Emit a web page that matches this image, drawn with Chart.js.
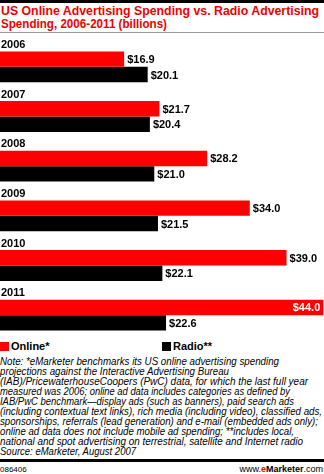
<!DOCTYPE html>
<html>
<head>
<meta charset="utf-8">
<script src="https://cdn.jsdelivr.net/npm/chart.js@4"></script>
<style>
  body { margin: 0; width: 324px; height: 474px; background: #fff; font-family: "Liberation Sans", Arial, sans-serif; position: relative; overflow: hidden; }
  .topline { position: absolute; left: 0; top: 0; width: 324px; height: 3px; background: #000; }
  .title { position: absolute; left: 1px; top: 5px; color: #e00; font-weight: bold; font-size: 13px; line-height: 12.5px; white-space: nowrap; }
  .rule { position: absolute; left: 0; top: 32px; width: 324px; height: 1px; background: #999; }
  #wrap { position: absolute; left: 0; top: 34px; width: 324px; height: 306px; }
  .legend { position: absolute; top: 340px; font-weight: bold; font-size: 11px; }
  .legend span { display: inline-block; width: 9px; height: 9px; vertical-align: -1px; margin-right: 2px; }
  .note { position: absolute; left: 0; top: 357px; font-style: italic; font-size: 10px; line-height: 10px; color: #000; }
  .fit { white-space: nowrap; transform-origin: 0 0; }
  .botline { position: absolute; left: 0; top: 459px; width: 324px; height: 3px; background: #000; }
  .code { position: absolute; left: 0; top: 465px; font-size: 8px; }
  .site { position: absolute; right: 1px; top: 464px; font-size: 9px; }
</style>
</head>
<body>
<div class="topline"></div>
<div class="title">
  <div class="fit" data-w="318">US Online Advertising Spending vs. Radio Advertising</div>
  <div class="fit" data-w="166">Spending, 2006-2011 (billions)</div>
</div>
<div class="rule"></div>
<div id="wrap"><canvas id="adChart"></canvas></div>
<div class="legend" style="left:0"><span style="background:#f00"></span>Online*</div>
<div class="legend" style="left:162px"><span style="background:#000"></span>Radio**</div>
<div class="note">
  <div class="fit" data-w="279">Note: *eMarketer benchmarks its US online advertising spending</div>
  <div class="fit" data-w="229">projections against the Interactive Advertising Bureau</div>
  <div class="fit" data-w="308">(IAB)/PricewaterhouseCoopers (PwC) data, for which the last full year</div>
  <div class="fit" data-w="290">measured was 2006; online ad data includes categories as defined by</div>
  <div class="fit" data-w="294">IAB/PwC benchmark—display ads (such as banners), paid search ads</div>
  <div class="fit" data-w="322">(including contextual text links), rich media (including video), classified ads,</div>
  <div class="fit" data-w="318">sponsorships, referrals (lead generation) and e-mail (embedded ads only);</div>
  <div class="fit" data-w="294">online ad data does not include mobile ad spending; **includes local,</div>
  <div class="fit" data-w="303">national and spot advertising on terrestrial, satellite and Internet radio</div>
  <div class="fit" data-w="136">Source: eMarketer, August 2007</div>
</div>
<div class="botline"></div>
<div class="code">086406</div>
<div class="site">www.<b style="color:#e00">e</b><b>Marketer</b>.com</div>

<script>
const years = ["2006", "2007", "2008", "2009", "2010", "2011"]
const online = [16.9, 21.7, 28.2, 34.0, 39.0, 44.0]
const radio = [20.1, 20.4, 21.0, 21.5, 22.1, 22.6]

// squeeze text lines to the widths seen in the picture
document.querySelectorAll(".fit").forEach((el) => {
    el.style.display = "inline-block"
    const w = el.getBoundingClientRect().width
    const target = parseFloat(el.dataset.w)
    el.style.transform = "scaleX(" + target / w + ")"
    el.style.display = "block"
})

// year label above each pair + value labels at bar ends
const labelPlugin = {
    id: "labelPlugin",
    afterDatasetsDraw(chart) {
        const ctx = chart.ctx
        const yScale = chart.scales.y
        ctx.save()
        ctx.font = "bold 11px 'Liberation Sans', Arial, sans-serif"
        ctx.textBaseline = "middle"
        years.forEach((yr, i) => {
            const yc = yScale.getPixelForValue(i)
            ctx.fillStyle = "#000"
            ctx.textAlign = "left"
            ctx.fillText(yr, 1, yc - 22)
        })
        chart.data.datasets.forEach((ds, di) => {
            const meta = chart.getDatasetMeta(di)
            meta.data.forEach((bar, i) => {
                const txt = "$" + ds.data[i].toFixed(1)
                const w = ctx.measureText(txt).width
                if (bar.x + 3 + w > chart.width) {
                    ctx.fillStyle = "#fff"
                    ctx.textAlign = "right"
                    ctx.fillText(txt, bar.x - 3, bar.y + 1)
                } else {
                    ctx.fillStyle = "#000"
                    ctx.textAlign = "left"
                    ctx.fillText(txt, bar.x + 3, bar.y + 1)
                }
            })
        })
        ctx.restore()
    },
}

new Chart(document.getElementById("adChart"), {
    type: "bar",
    data: {
        labels: years,
        datasets: [
            { label: "Online*", data: online, backgroundColor: "#ff0000" },
            { label: "Radio**", data: radio, backgroundColor: "#000000" },
        ],
    },
    options: {
        indexAxis: "y",
        responsive: true,
        maintainAspectRatio: false,
        animation: false,
        layout: { padding: { top: 8 } },
        datasets: { bar: { categoryPercentage: 0.62, barPercentage: 1.0 } },
        plugins: { legend: { display: false }, tooltip: { enabled: false } },
        scales: {
            x: { display: false, min: 0, max: 44.1 },
            y: { display: false },
        },
    },
    plugins: [labelPlugin],
})
</script>
</body>
</html>
